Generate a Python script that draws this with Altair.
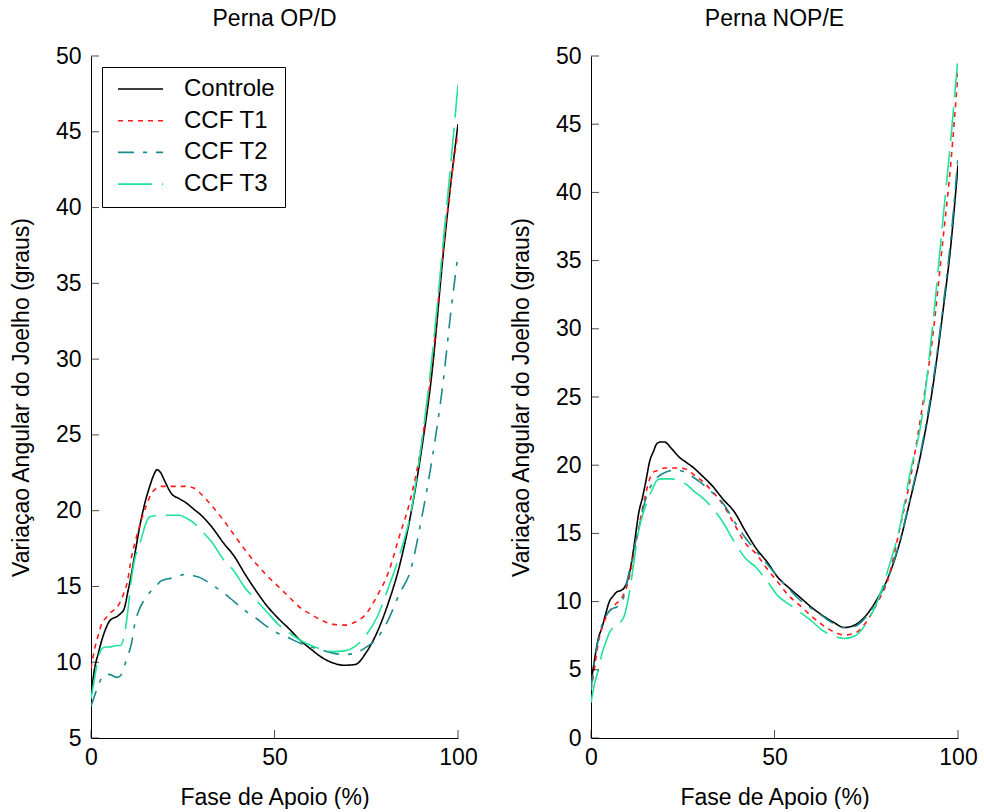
import altair as alt
import pandas as pd

FONT = "Liberation Sans"
FS = 23

# Stance-phase sample positions (%)
fase = [0, 1, 2, 3, 4, 5, 6, 7, 8, 9, 10, 11, 12, 13, 14, 15, 16, 17, 18, 19,
        20, 22, 24, 26, 28, 30, 33, 36, 39, 42, 45, 48, 51, 54, 57, 60, 63, 66,
        69, 72, 75, 78, 81, 84, 87, 90, 93, 96, 98, 100]

grupos = ["Controle", "CCF T1", "CCF T2", "CCF T3"]
cores = ["#000000", "#ff1a1a", "#1a8a8f", "#1fe39a"]
tracos = [[1, 0], [5, 5], [16, 9, 4, 9], [34, 10]]

# Knee angle (degrees), leg OP/D
op_controle = [7.8, 9.6, 10.6, 11.5, 12.2, 12.7, 12.9, 13.0, 13.2, 13.5, 14.6, 15.8,
               17.2, 18.6, 19.8, 20.8, 21.6, 22.3, 22.7, 22.5, 22.0, 21.1, 20.8, 20.5,
               20.1, 19.7, 18.9, 17.9, 17.0, 15.8, 14.7, 13.7, 12.9, 12.2, 11.45, 10.85,
               10.3, 9.95, 9.8, 9.85, 10.65, 12.0, 13.9, 16.3, 19.6, 23.9, 29.3, 37.0,
               41.5, 45.5]
op_t1 = [9.6, 10.9, 11.8, 12.6, 12.9, 13.2, 13.4, 13.6, 14.0, 14.6, 15.4, 16.9, 17.9,
         18.8, 19.6, 20.3, 20.9, 21.3, 21.5, 21.6, 21.6, 21.6, 21.6, 21.6, 21.5, 21.1,
         20.3, 19.4, 18.4, 17.4, 16.5, 15.7, 15.0, 14.3, 13.6, 13.15, 12.75, 12.5,
         12.45, 12.65, 13.2, 14.4, 15.9, 18.3, 20.7, 24.3, 29.8, 37.3, 41.5, 45.0]
op_t2 = [7.1, 7.8, 8.5, 9.0, 9.2, 9.2, 9.1, 9.0, 9.1, 9.7, 10.4, 11.2, 12.6, 13.4,
         13.9, 14.3, 14.6, 14.9, 15.1, 15.35, 15.45, 15.55, 15.7, 15.8, 15.7, 15.55,
         15.1, 14.6, 14.0, 13.4, 12.9, 12.35, 11.9, 11.6, 11.25, 11.0, 10.8, 10.6,
         10.5, 10.6, 11.0, 11.6, 12.8, 14.5, 16.0, 19.4, 23.5, 28.6, 33.0, 36.9]
op_t3 = [7.6, 9.0, 10.3, 10.9, 11.0, 11.0, 11.05, 11.1, 11.1, 11.7, 13.3, 15.5, 16.9,
         17.6, 18.4, 19.2, 19.6, 19.65, 19.7, 19.7, 19.7, 19.7, 19.7, 19.5, 19.2, 18.7,
         17.9, 16.8, 16.0, 14.9, 14.1, 13.3, 12.5, 11.95, 11.45, 11.1, 10.85, 10.7,
         10.75, 11.05, 11.8, 13.0, 14.9, 17.0, 19.7, 24.3, 30.3, 37.8, 42.8, 48.1]

# Knee angle (degrees), leg NOP/E
nop_controle = [4.0, 5.8, 7.3, 8.1, 9.1, 10.0, 10.4, 10.7, 10.8, 11.0, 11.6, 12.8,
                14.6, 16.5, 17.6, 18.9, 20.3, 21.0, 21.6, 21.7, 21.7, 21.2, 20.6, 20.2,
                19.8, 19.3, 18.5, 17.5, 16.6, 15.2, 13.9, 12.9, 11.75, 11.0, 10.3, 9.6,
                9.0, 8.5, 8.1, 8.3, 9.0, 10.2, 11.8, 14.2, 17.5, 21.0, 25.5, 31.5, 36.0,
                42.0]
nop_t1 = [3.5, 5.2, 7.0, 8.1, 8.8, 9.3, 9.6, 9.9, 10.1, 10.6, 11.3, 12.5, 14.0, 15.4,
          16.8, 18.0, 19.0, 19.5, 19.6, 19.7, 19.8, 19.8, 19.8, 19.7, 19.3, 18.9, 18.1,
          17.1, 15.7, 14.3, 13.5, 12.4, 11.4, 10.4, 9.7, 8.95, 8.3, 7.8, 7.55, 7.7,
          8.5, 9.9, 11.7, 15.2, 19.0, 23.8, 29.2, 36.8, 42.0, 48.8]
nop_t2 = [3.5, 5.8, 7.2, 8.3, 8.9, 9.3, 9.5, 9.6, 9.8, 10.4, 11.7, 12.9, 14.2, 15.4,
          16.6, 17.6, 18.3, 18.8, 19.1, 19.3, 19.45, 19.6, 19.6, 19.45, 19.1, 18.7,
          18.0, 17.2, 15.9, 14.7, 13.7, 12.75, 11.8, 10.9, 10.1, 9.5, 8.95, 8.4, 8.1,
          8.2, 8.9, 10.1, 11.8, 14.3, 17.6, 21.2, 25.8, 31.8, 36.5, 42.6]
nop_t3 = [2.6, 4.0, 5.0, 6.2, 7.0, 7.7, 8.1, 8.4, 8.5, 8.9, 10.0, 11.6, 13.5, 15.2,
          16.3, 17.1, 17.8, 18.4, 18.9, 19.0, 19.0, 19.0, 18.8, 18.6, 18.1, 17.7, 16.9,
          15.8, 14.4, 13.2, 12.5, 11.5, 10.4, 9.8, 9.2, 8.6, 7.9, 7.5, 7.3, 7.5, 8.4,
          10.0, 12.4, 15.3, 19.5, 23.2, 30.0, 38.3, 43.8, 49.9]

x_ticks = [0, 50, 100]
op_y_ticks = [5, 10, 15, 20, 25, 30, 35, 40, 45, 50]
nop_y_ticks = [0, 5, 10, 15, 20, 25, 30, 35, 40, 45, 50]

X_TITLE = "Fase de Apoio (%)"
Y_TITLE = "Variaçao Angular do Joelho (graus)"


def long_table(series):
    rows = []
    for nome, valores in zip(grupos, series):
        for f, v in zip(fase, valores):
            rows.append({"fase": f, "angulo": v, "grupo": nome})
    return pd.DataFrame(rows)


def painel(titulo, series, y_ticks, com_legenda):
    y_dom = [y_ticks[0], y_ticks[-1]]
    x_scale = alt.Scale(domain=[0, 100], nice=False, zero=False)
    y_scale = alt.Scale(domain=y_dom, nice=False, zero=False)
    x_axis = alt.Axis(values=x_ticks, title=X_TITLE, labelFlush=False,
                      labelPadding=8, titlePadding=17)
    y_axis = alt.Axis(values=y_ticks, title=Y_TITLE, labelPadding=10,
                      titlePadding=22)

    legenda = None
    if com_legenda:
        legenda = alt.Legend(
            title=None, orient="top-left", offset=11, padding=10,
            fillColor="white", strokeColor="black", cornerRadius=0,
            labelFont=FONT, labelFontSize=24, labelColor="black",
            symbolType="stroke", symbolSize=2025, symbolStrokeWidth=1.6,
            symbolOffset=5, clipHeight=24, rowPadding=7.7, labelOffset=20,
        )

    linhas = alt.Chart(long_table(series)).mark_line(
        strokeWidth=1.6, interpolate="monotone", clip=True
    ).encode(
        x=alt.X("fase:Q", scale=x_scale, axis=x_axis),
        y=alt.Y("angulo:Q", scale=y_scale, axis=y_axis),
        color=alt.Color("grupo:N", scale=alt.Scale(domain=grupos, range=cores),
                        sort=grupos, legend=legenda),
        strokeDash=alt.StrokeDash("grupo:N",
                                  scale=alt.Scale(domain=grupos, range=tracos),
                                  sort=grupos, legend=legenda),
    )

    # inward tick marks, as on the original axes
    marcas_y = alt.Chart(pd.DataFrame({"v": y_ticks})).mark_tick(
        orient="horizontal", size=8, thickness=1, color="black", xOffset=4
    ).encode(
        y=alt.Y("v:Q", scale=y_scale, axis=y_axis),
        x=alt.datum(0, scale=x_scale, axis=x_axis),
    )
    marcas_x = alt.Chart(pd.DataFrame({"v": x_ticks})).mark_tick(
        orient="vertical", size=8, thickness=1, color="black", yOffset=-4
    ).encode(
        x=alt.X("v:Q", scale=x_scale, axis=x_axis),
        y=alt.datum(y_dom[0], scale=y_scale, axis=y_axis),
    )

    return alt.layer(linhas, marcas_y, marcas_x).properties(
        width=367, height=682,
        title=alt.TitleParams(titulo, anchor="middle", offset=14),
    )


esquerda = painel("Perna OP/D", [op_controle, op_t1, op_t2, op_t3], op_y_ticks, True)
direita = painel("Perna NOP/E", [nop_controle, nop_t1, nop_t2, nop_t3], nop_y_ticks, False)

chart = alt.hconcat(esquerda, direita, spacing=32).resolve_scale(
    color="independent", strokeDash="independent"
).properties(
    padding={"left": 10, "top": 8, "right": 5, "bottom": 0},
    background="white",
).configure_axis(
    domainColor="black", domainWidth=1, ticks=False, grid=False,
    labelFont=FONT, labelFontSize=FS, labelColor="black",
    titleFont=FONT, titleFontSize=FS, titleFontWeight="normal", titleColor="black",
).configure_title(
    font=FONT, fontSize=FS, fontWeight="normal", color="black",
).configure_legend(
    strokeWidth=1,
).configure_view(stroke=None)

chart.save("out.html", embed_options={"renderer": "svg", "actions": False})
